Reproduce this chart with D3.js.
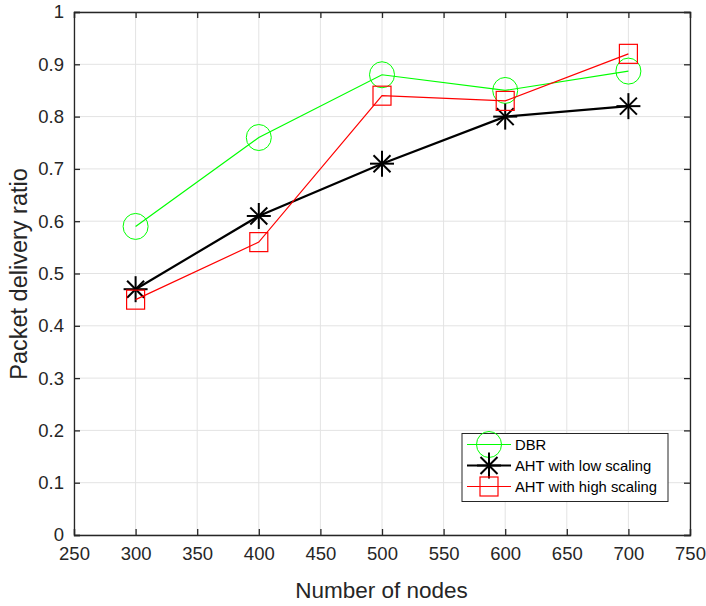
<!DOCTYPE html>
<html><head><meta charset="utf-8">
<script src="https://cdn.jsdelivr.net/npm/d3@7"></script>
<style>
html,body{margin:0;padding:0;background:#fff;}
svg{display:block;font-family:"Liberation Sans",Arial,Helvetica,sans-serif;}
</style></head>
<body><svg id="c" width="706" height="606"></svg>
<script>
const nodes = [300, 400, 500, 600, 700];
const dbr = [0.59, 0.76, 0.88, 0.85, 0.887];
const ahtLow = [0.47, 0.61, 0.71, 0.80, 0.82];
const ahtHigh = [0.45, 0.56, 0.84, 0.83, 0.92];
const xTicks = [250, 300, 350, 400, 450, 500, 550, 600, 650, 700, 750];
const yTicks = [0, 0.1, 0.2, 0.3, 0.4, 0.5, 0.6, 0.7, 0.8, 0.9, 1];
const seriesNames = ["DBR", "AHT with low scaling", "AHT with high scaling"];

const svg = d3.select("#c");
const L = 74, R = 690, T = 12, B = 535;
const x = d3.scaleLinear().domain([250, 750]).range([L, R]);
const y = d3.scaleLinear().domain([0, 1]).range([B, T]);
const axisCol = "#262626";

// grid
const g = svg.append("g");
g.selectAll("line.gx").data(xTicks).join("line")
  .attr("x1", d => x(d)).attr("x2", d => x(d)).attr("y1", T).attr("y2", B)
  .attr("stroke", "#e3e3e3").attr("stroke-width", 1);
g.selectAll("line.gy").data(yTicks).join("line")
  .attr("y1", d => y(d)).attr("y2", d => y(d)).attr("x1", L).attr("x2", R)
  .attr("stroke", "#e3e3e3").attr("stroke-width", 1);

// axes
const fmtY = d => d === 0 ? "0" : d === 1 ? "1" : d3.format(".1f")(d);
const axB = svg.append("g").attr("transform", `translate(0,${B})`)
  .call(d3.axisBottom(x).tickValues(xTicks).tickSize(-6).tickPadding(12).tickFormat(d3.format("d")));
const axT = svg.append("g").attr("transform", `translate(0,${T})`)
  .call(d3.axisTop(x).tickValues(xTicks).tickSize(-6).tickFormat(""));
const axL = svg.append("g").attr("transform", `translate(${L},0)`)
  .call(d3.axisLeft(y).tickValues(yTicks).tickSize(-6).tickPadding(10).tickFormat(fmtY));
const axR = svg.append("g").attr("transform", `translate(${R},0)`)
  .call(d3.axisRight(y).tickValues(yTicks).tickSize(-6).tickFormat(""));
[axB, axT, axL, axR].forEach(a => {
  a.select(".domain").attr("stroke", axisCol).attr("stroke-width", 1.3);
  a.selectAll(".tick line").attr("stroke", axisCol).attr("stroke-width", 1.3);
  a.selectAll(".tick text").attr("fill", axisCol).attr("font-size", 18.5)
    .attr("font-family", "Liberation Sans, Arial, sans-serif");
});
axB.selectAll(".tick text").attr("dy", "0.71em");

svg.append("text").attr("x", 381.5).attr("y", 598).attr("text-anchor", "middle")
  .attr("font-size", 22.5).attr("fill", axisCol).text("Number of nodes");
svg.append("text").attr("transform", `translate(26.5,274) rotate(-90)`)
  .attr("text-anchor", "middle").attr("font-size", 23.5).attr("fill", axisCol).text("Packet delivery ratio");

const line = d3.line().x(d => x(d[0])).y(d => y(d[1]));

// marker drawers
function circle(sel, cx, cy, col) {
  sel.append("ellipse").attr("cx", cx).attr("cy", cy).attr("rx", 12.5).attr("ry", 13)
    .attr("fill", "none").attr("stroke", col).attr("stroke-width", 1);
}
function square(sel, cx, cy, col) {
  sel.append("rect").attr("x", cx - 9).attr("y", cy - 9.5).attr("width", 18).attr("height", 19)
    .attr("fill", "none").attr("stroke", col).attr("stroke-width", 1.2);
}
function star(sel, cx, cy, col) {
  const r = 12, d = 8.5;
  const segs = [[-r, 0, r, 0], [0, -r - 1, 0, r + 1], [-d, -d, d, d], [-d, d, d, -d]];
  segs.forEach(s => sel.append("line")
    .attr("x1", cx + s[0]).attr("y1", cy + s[1]).attr("x2", cx + s[2]).attr("y2", cy + s[3])
    .attr("stroke", col).attr("stroke-width", 2));
}

const series = [
  {vals: dbr, col: "#00ff00", w: 1.2, m: circle},
  {vals: ahtLow, col: "#000000", w: 2.2, m: star},
  {vals: ahtHigh, col: "#ff0000", w: 1.2, m: square}
];
const plot = svg.append("g");
series.forEach(s => {
  const pts = nodes.map((n, i) => [n, s.vals[i]]);
  plot.append("path").attr("d", line(pts)).attr("fill", "none")
    .attr("stroke", s.col).attr("stroke-width", s.w);
  pts.forEach(p => s.m(plot, x(p[0]), y(p[1]), s.col));
});

// legend
const lg = svg.append("g");
lg.append("rect").attr("x", 462).attr("y", 433.5).attr("width", 206).attr("height", 68)
  .attr("fill", "#fff").attr("stroke", axisCol).attr("stroke-width", 1);
const rowsY = [444.5, 465.5, 486.5];
series.forEach((s, i) => {
  const yy = rowsY[i];
  lg.append("line").attr("x1", 467).attr("x2", 511).attr("y1", yy).attr("y2", yy)
    .attr("stroke", s.col).attr("stroke-width", s.w);
  s.m(lg, 489, yy, s.col);
  lg.append("text").attr("x", 515).attr("y", yy).attr("dy", "0.36em")
    .attr("font-size", 14.8).attr("fill", "#000").text(seriesNames[i]);
});
</script>
</body></html>
